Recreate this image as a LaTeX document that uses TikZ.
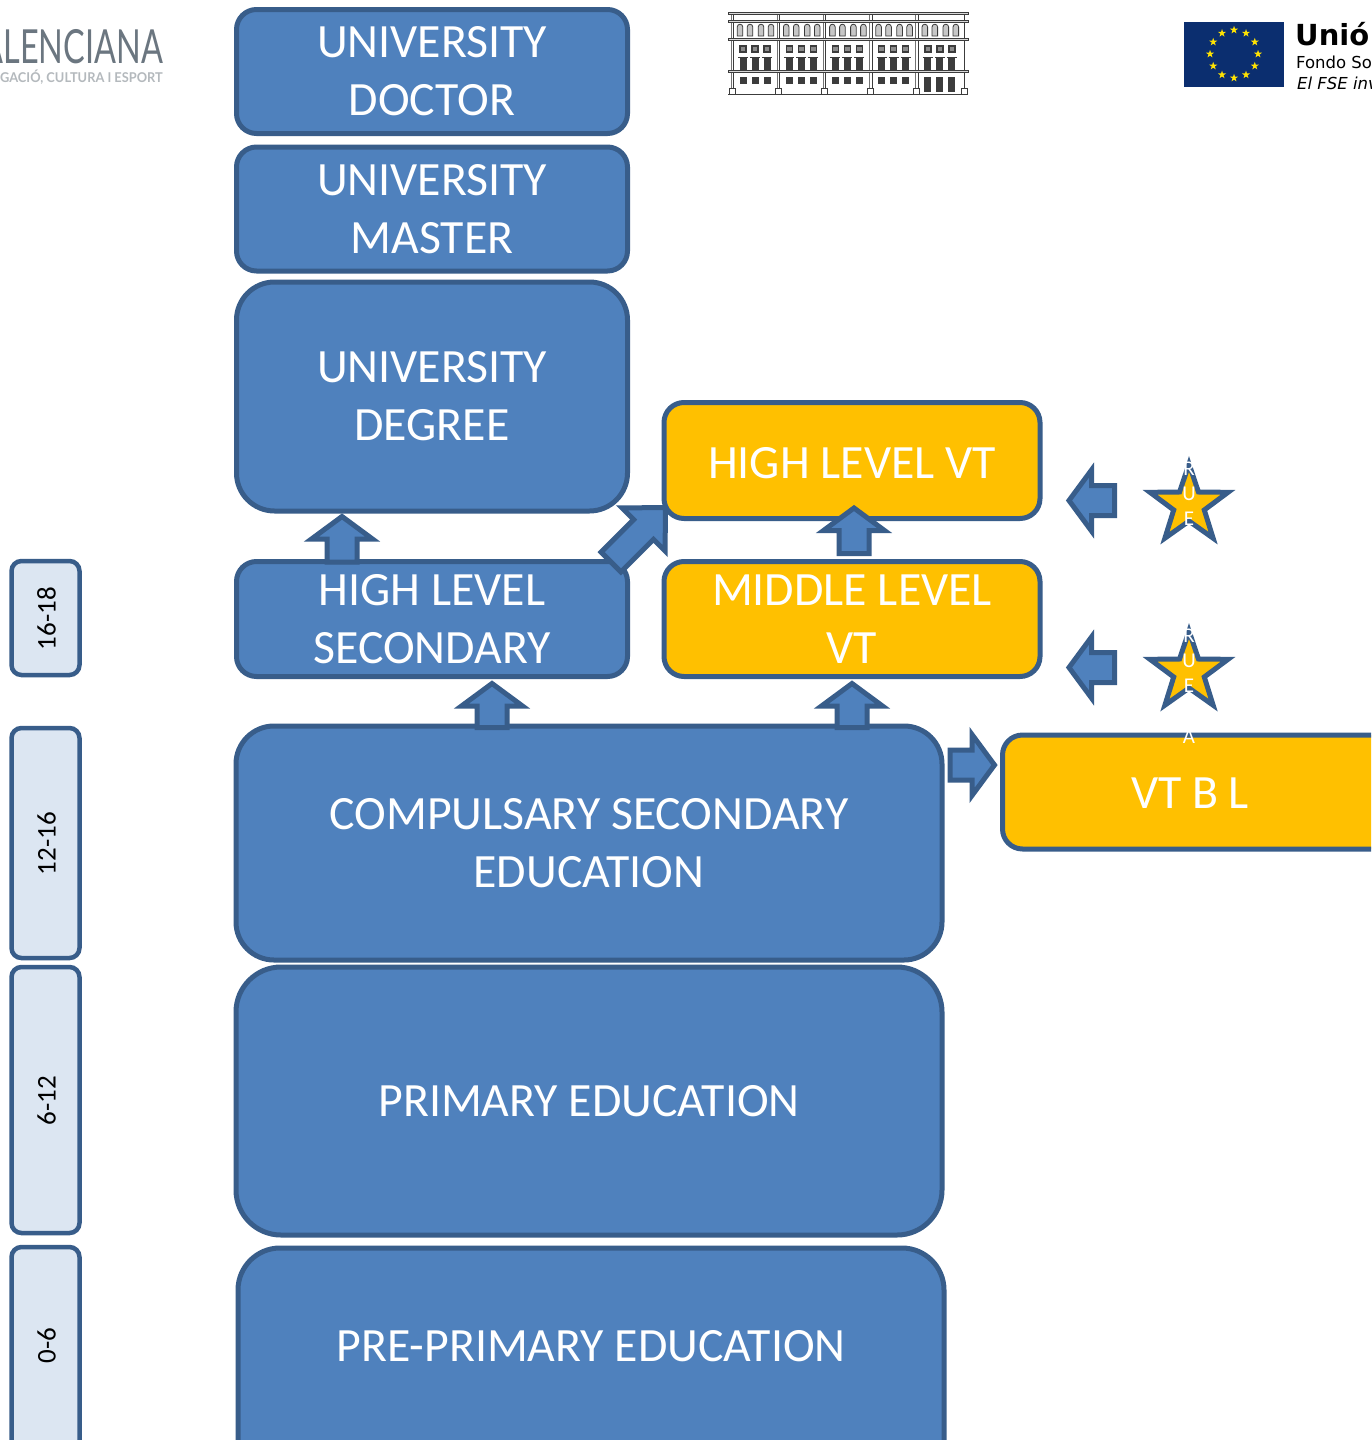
\documentclass[tikz,border=0pt]{standalone}
\usepackage{fontspec}
\usetikzlibrary{shapes.geometric,calc}
\setmainfont{Carlito}
\newfontfamily\dvfont{DejaVu Sans}
\newfontfamily\latofont{Lato}
\definecolor{boxblue}{HTML}{4F81BD}
\definecolor{edgeblue}{HTML}{385D8A}
\definecolor{vtyellow}{HTML}{FFC000}
\definecolor{agefill}{HTML}{DCE6F2}
\definecolor{euflag}{HTML}{0B2E6F}
\definecolor{logogrey}{HTML}{6B7680}
\definecolor{logolight}{HTML}{B4B9BD}
\definecolor{bldg}{HTML}{3C3C3C}
\tikzset{
  x=1pt,y=-1pt,
  boxbase/.style={draw=edgeblue,line width=5pt,inner sep=0pt,text=white,align=center,
    font=\fontsize{47.8}{58}\selectfont},
  eduS/.style={boxbase,fill=boxblue,rounded corners=20pt},
  eduL/.style={boxbase,fill=boxblue,rounded corners=38pt},
  vtbox/.style={boxbase,fill=vtyellow,rounded corners=20pt},
  agebox/.style={draw=edgeblue,line width=4.5pt,fill=agefill,rounded corners=10pt,inner sep=0pt},
  agetext/.style={rotate=90,text=black,font=\fontsize{27}{30}\selectfont},
  arrowshape/.style={draw=edgeblue,line width=5pt,fill=boxblue,miter limit=10},
  starshape/.style={star,star points=5,star point ratio=2.55,minimum size=82pt,inner sep=0pt,
    draw=edgeblue,line width=5pt,fill=vtyellow,miter limit=10},
  starletter/.style={text=white,inner sep=0pt,font=\fontsize{21}{21}\selectfont},
  eustar/.style={star,star points=5,star point ratio=2.6,minimum size=8.5pt,inner sep=0pt,fill=yellow!85!orange},
  win/.style={fill=bldg,draw=none},
  bline/.style={draw=bldg,line width=0.9pt},
  bbar/.style={draw=bldg,line width=0.7pt,fill=black!15},
}
% tail x, tail y, angle, length, head length, shaft half width
\newcommand{\blockarrow}[6]{%
  \draw[arrowshape,shift={(#1,#2)},rotate=#3]
    (0,-#6) -- ({#4-#5},-#6) -- ({#4-#5},-30.5) -- (#4,0) -- ({#4-#5},30.5) -- ({#4-#5},#6) -- (0,#6) -- cycle;}
\begin{document}
\begin{tikzpicture}
\clip (0,0) rectangle (1371,1440);
\fill[white] (0,0) rectangle (1371,1440);

% left logo
\node[anchor=east,inner sep=0pt,text=logogrey,xscale=0.69,font=\latofont\fontsize{47}{47}\selectfont] (logoA) at (163,47) {VALENCIANA};
\node[anchor=east,inner sep=0pt,text=logolight,xscale=0.95,font=\latofont\bfseries\fontsize{13.5}{14}\selectfont] (logoB) at (163,77) {GACIÓ, CULTURA I ESPORT};

% building
\foreach \b in {0,...,4}{
  \pgfmathsetmacro{\o}{46.2*\b}
  \begin{scope}[xshift=\o pt]
    \foreach \a in {740,750,761,771}{
      \draw[draw=bldg,line width=0.8pt,fill=black!22] (\a-2.8,36) -- (\a-2.8,27) arc[start angle=180,end angle=360,radius=2.8] -- (\a+2.8,36) -- cycle;
    }
    \foreach \a in {743,755,767}{
      \draw[draw=bldg,line width=1.4pt,fill=black!45] (\a-3,46) rectangle (\a+3,52);
      \draw[bldg,line width=1pt] (\a-5,57) -- (\a+5,57);
      \fill[bldg] (\a-3.5,58) rectangle (\a+3.5,71);
    }
    \ifnum\b<4
      \foreach \a in {743,755,767}{\fill[win] (\a-3.5,77) rectangle (\a+3.5,84);}
    \else
      \foreach \a in {743,755,767}{\fill[win] (\a-3.5,77) rectangle (\a+3.5,92);}
    \fi
    \draw[bline] (733.5,88) -- (733.5,15);
    \draw[draw=black!55,line width=1pt] (731,15) -- (731,88);
    \draw[bline] (729,88) rectangle (735,94);
  \end{scope}
}
\draw[bline] (964,15) -- (964,88);
\draw[bline] (961,88) rectangle (967,94);
\draw[bline] (728,94) -- (968,94);
\draw[bbar] (728,12.5) rectangle (968,14.5);
\draw[bbar] (728,20.5) rectangle (968,22.5);
\draw[bbar] (728,38) rectangle (968,40);
\draw[bbar] (728,70.5) rectangle (968,72.5);

% EU logo
\fill[euflag] (1184,22) rectangle (1284,87);
\foreach \t in {0,30,...,330}{
  \node[eustar] at ($(1234,54)+(\t:24)$) {};
}
\node[anchor=base west,inner sep=0pt,font=\dvfont\bfseries\fontsize{29}{29}\selectfont] (eu1) at (1295,45) {Unió};
\node[anchor=base west,inner sep=0pt,font=\dvfont\fontsize{16.5}{17}\selectfont] (eu2) at (1296,68) {Fondo Social};
\node[anchor=base west,inner sep=0pt,font=\dvfont\itshape\fontsize{16.5}{17}\selectfont] (eu3) at (1297,89) {El FSE invierte};

% age boxes
\draw[agebox] (11.5,561) rectangle (79.5,675); \node[agetext] (a1) at (46.5,618.5) {16-18};
\draw[agebox] (11.5,728) rectangle (79.5,958); \node[agetext] (a2) at (46.5,843.5) {12-16};
\draw[agebox] (11.5,967) rectangle (79.5,1233); \node[agetext] (a3) at (46.5,1100.5) {6-12};
\draw[agebox] (11.5,1247) rectangle (79.5,1480); \node[agetext] (a4) at (46.5,1345.5) {0-6};

% education boxes
\node[eduS,minimum width=391pt,minimum height=124pt] (doctor) at (432,71.5) {UNIVERSITY\\DOCTOR};
\node[eduS,minimum width=391pt,minimum height=124pt] (master) at (432,209) {UNIVERSITY\\MASTER};
\node[eduL,minimum width=391pt,minimum height=229pt] (degree) at (432,396.5) {UNIVERSITY\\DEGREE};
\node[eduS,minimum width=391pt,minimum height=115pt] (hsec) at (432,619) {HIGH LEVEL\\SECONDARY};
\node[eduL,minimum width=706pt,minimum height=234pt] (cse) at (589,843) {COMPULSARY SECONDARY\\EDUCATION};
\node[eduL,rounded corners=45pt,minimum width=706pt,minimum height=268pt] (prim) at (589,1101) {PRIMARY EDUCATION};
\node[eduL,rounded corners=42pt,minimum width=706pt,minimum height=234pt] (pre) at (591,1365) {};
\node[text=white,inner sep=0pt,font=\fontsize{47.8}{58}\selectfont] (pretext) at (591,1346) {PRE-PRIMARY EDUCATION};

% VT boxes
\node[vtbox,minimum width=376pt,minimum height=116pt,text height=35pt,text depth=0pt] (hvt) at (852,460.5) {HIGH LEVEL VT};
\node[vtbox,minimum width=376pt,minimum height=115pt] (mvt) at (852,619) {MIDDLE LEVEL\\VT};
\node[vtbox,minimum width=420pt,minimum height=114pt,anchor=west] (bvt) at (1000,792) {};
\node[text=white,inner sep=0pt,font=\fontsize{47.8}{58}\selectfont] (bvttext) at (1190,793) {VT\hspace{10pt}B\hspace{10pt}L};

% block arrows
\blockarrow{342}{562}{90}{45.5}{22.5}{15}
\blockarrow{492}{727.5}{90}{44}{22.5}{15}
\blockarrow{852}{727.5}{90}{44}{22.5}{15}
\blockarrow{854}{553.5}{90}{45.5}{22.5}{15}
\blockarrow{611}{562}{45}{77}{31}{14}
\blockarrow{1114.5}{500.5}{180}{45.5}{22.5}{15}
\blockarrow{1114.5}{667.5}{180}{45.5}{22.5}{15}
\blockarrow{950}{765}{0}{44.5}{22.5}{15}

% stars
\node[starshape] (s1) at (1189,505) {};
\node[starshape] (s2) at (1189,672) {};
\foreach \n/\y/\l in {r1/469/R,u1/494/U,e1/519/E,r2/636/R,u2/661/U,e2/686/E,a2/737/A}{
  \node[starletter] (\n) at (1189,\y) {\l};
}
\end{tikzpicture}
\end{document}
